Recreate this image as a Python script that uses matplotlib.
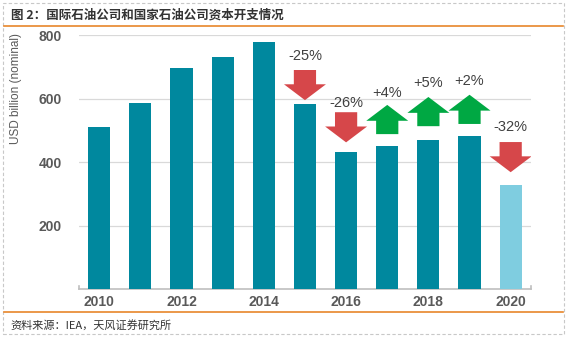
import numpy as np
import matplotlib.pyplot as plt
from matplotlib.patches import FancyArrow, Rectangle
from matplotlib.lines import Line2D

plt.rcParams['font.family'] = ['Noto Sans CJK SC', 'DejaVu Sans']
latin = ['Liberation Sans', 'DejaVu Sans']

# capex data (USD billion, nominal)
years = [2010, 2011, 2012, 2013, 2014, 2015, 2016, 2017, 2018, 2019, 2020]
capex = [510, 586, 696, 731, 778, 583, 433, 449, 471, 481, 327]
tick_years = [2010, 2012, 2014, 2016, 2018, 2020]

# year-on-year change labels shown from 2015 onwards
chg_years = [2015, 2016, 2017, 2018, 2019, 2020]
chg_labels = ['-25%', '-26%', '+4%', '+5%', '+2%', '-32%']
arrow_base = [690, 557, 488, 513, 520, 463]
label_y = [734, 586, 617, 649, 655, 510]

teal = '#00889e'
light = '#7fcde0'
red = '#d6474a'
green = '#00a843'
grey = '#595959'

fig = plt.figure(figsize=(5.7, 3.39), dpi=100)
ax = fig.add_axes([0.138, 0.1475, 0.794, 0.749])

x = np.arange(len(years))
colors = [teal] * (len(years) - 1) + [light]
ax.bar(x, capex, width=0.54, color=colors, edgecolor='none', zorder=3)

for yr, lab, yb, ly in zip(chg_years, chg_labels, arrow_base, label_y):
    i = years.index(yr)
    up = lab.startswith('+')
    dy = 92 if up else -95
    arr = FancyArrow(i, yb, 0, dy, width=0.54, head_width=1.02, head_length=50,
                     length_includes_head=True, color=green if up else red,
                     zorder=4, linewidth=0)
    ax.add_patch(arr)
    ax.text(i, ly, lab, ha='center', va='center', fontsize=10.5, color='#404040',
            family=latin)

ax.set_xlim(-0.5, 10.5)
ax.set_ylim(0, 800)
ax.set_yticks([200, 400, 600, 800])
ax.set_xticks([years.index(y) for y in tick_years])
ax.set_xticklabels([str(y) for y in tick_years])
ax.grid(axis='y', color='#d9d9d9', linewidth=0.9, zorder=0)
for s in ['top', 'right', 'left']:
    ax.spines[s].set_visible(False)
ax.spines['bottom'].set_color('#bfbfbf')
ax.spines['bottom'].set_linewidth(1.2)
ax.tick_params(axis='both', length=0, labelsize=10, colors=grey)
ax.tick_params(axis='x', pad=4)
ax.tick_params(axis='y', pad=12)
for t in ax.get_xticklabels() + ax.get_yticklabels():
    t.set_fontweight('bold')
    t.set_family(latin)
ax.set_ylabel('USD billion (nominal)', fontsize=8.5, color=grey, family=latin)
ax.yaxis.set_label_coords(-0.125, 0.79)

# small end caps on the category axis
for xe in (0, 1):
    ax.add_line(Line2D([xe, xe], [0, 0.012], transform=ax.transAxes,
                       color='#bfbfbf', linewidth=1.2, clip_on=False))

# frame, title and source
fig.patches.append(Rectangle((3 / 570, 5 / 339), 561 / 570, 331 / 339,
                             transform=fig.transFigure, fill=False,
                             edgecolor='#c8c8c8', linestyle=(0, (3, 2)),
                             linewidth=0.8))
fig.add_artist(Line2D([4 / 570, 563 / 570], [1 - 26 / 339, 1 - 26 / 339],
                      transform=fig.transFigure, color='#e8862a', linewidth=1.2))
fig.add_artist(Line2D([4 / 570, 563 / 570], [1 - 312 / 339, 1 - 312 / 339],
                      transform=fig.transFigure, color='#e8862a', linewidth=1.2))
fig.text(11 / 570, 1 - 15 / 339, '图 2：国际石油公司和国家石油公司资本开支情况',
         fontsize=9, fontweight='bold', color='#333333', va='center')
fig.text(10 / 570, 1 - 325 / 339, '资料来源：IEA，天风证券研究所',
         fontsize=8, color='#333333', va='center')

fig.savefig('out.png', dpi=100)
